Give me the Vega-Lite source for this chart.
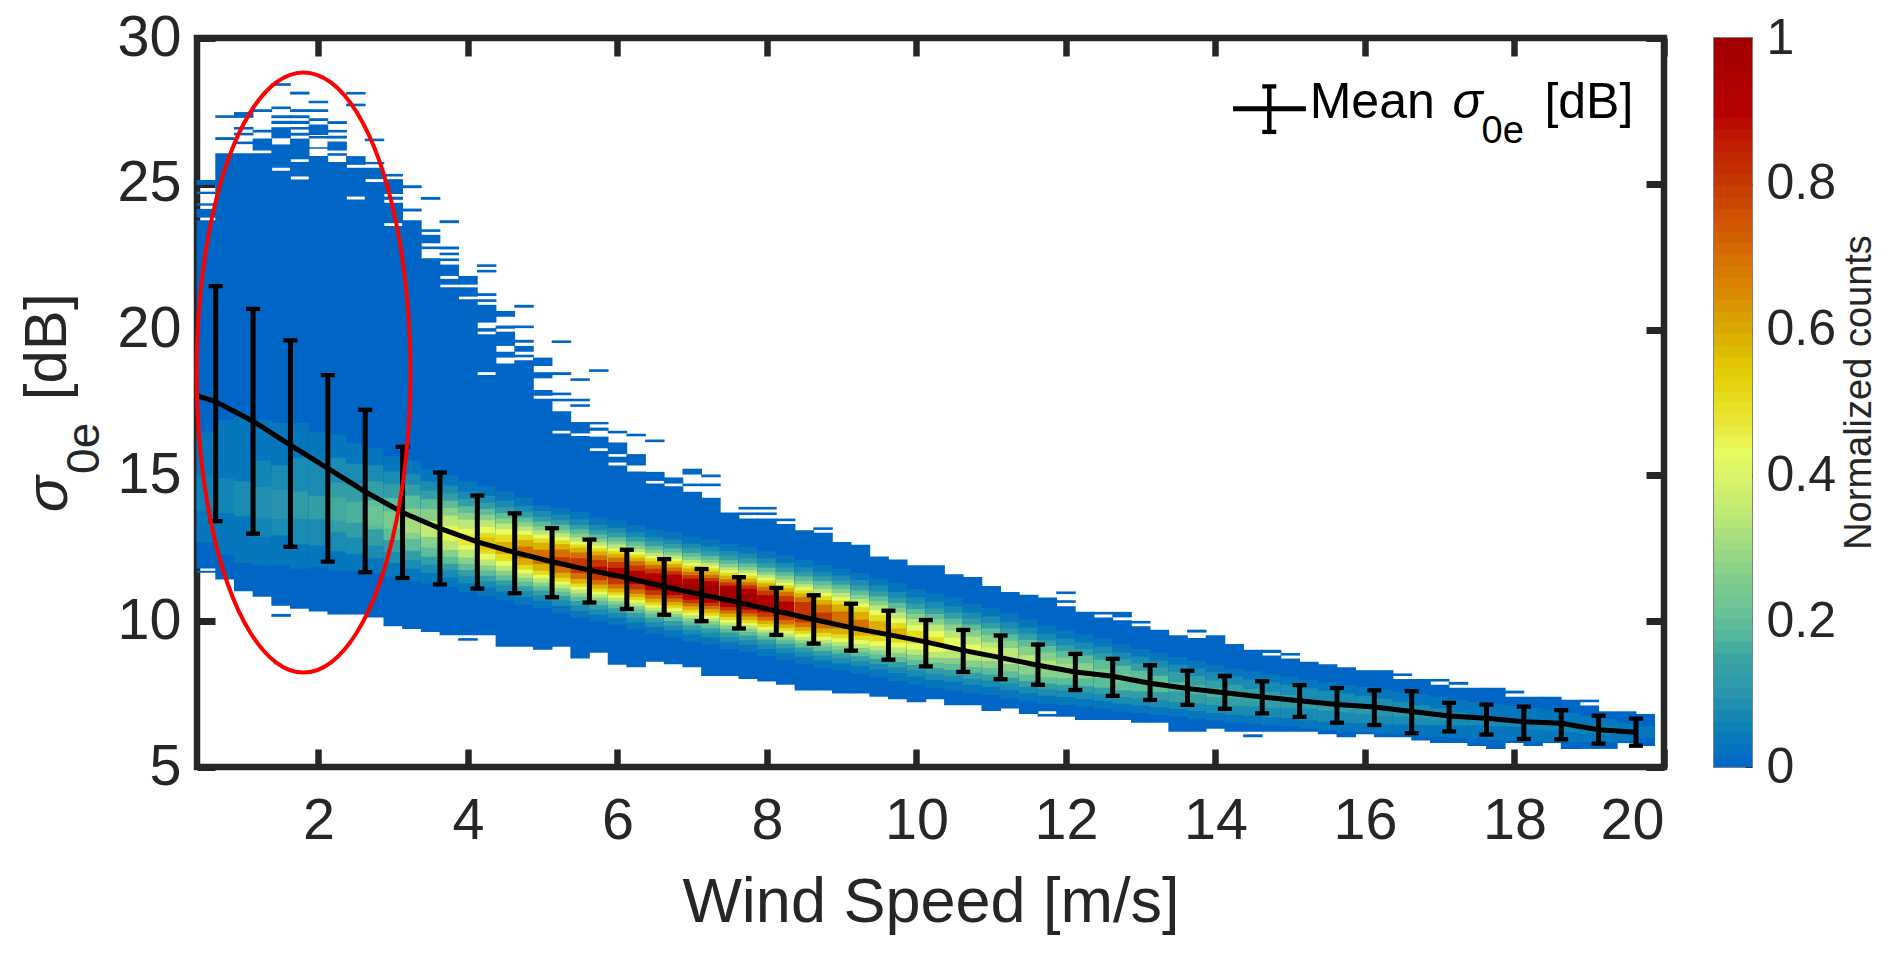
{"$schema":"https://vega.github.io/schema/vega-lite/v6.json","padding":{"left":14,"top":5,"right":0,"bottom":0},"background":"white","spacing":42,"resolve":{"scale":{"color":"independent"}},"config":{"font":"Liberation Sans","axis":{"labelFont":"Liberation Sans","titleFont":"Liberation Sans","labelColor":"#262626","titleColor":"#262626","grid":false}},"datasets":{"heat":[
{"x":0.5,"y":11.66,"y2":11.73,"c":0},{"x":0.5,"y":11.81,"y2":23.75,"c":0},{"x":0.5,"y":23.84,"y2":24.14,"c":0},{"x":0.5,"y":24.25,"y2":24.33,"c":0},{"x":0.5,"y":24.65,"y2":24.73,"c":0},{"x":0.5,"y":24.96,"y2":25.13,"c":0},{"x":0.5,"y":12.7,"y2":16.5,"c":0.03},{"x":0.5,"y":13.8,"y2":15.0,"c":0.05},
{"x":0.75,"y":11.43,"y2":26.05,"c":0},{"x":0.75,"y":26.5,"y2":26.6,"c":0},{"x":0.75,"y":27.26,"y2":27.35,"c":0},{"x":0.75,"y":12.3,"y2":16.9,"c":0.03},{"x":0.75,"y":13.7,"y2":14.9,"c":0.06},
{"x":1,"y":11.03,"y2":26.05,"c":0},{"x":1,"y":26.36,"y2":26.45,"c":0},{"x":1,"y":26.66,"y2":26.75,"c":0},{"x":1,"y":26.86,"y2":26.95,"c":0},{"x":1,"y":27.26,"y2":27.46,"c":0},{"x":1,"y":12.0,"y2":17.0,"c":0.03},{"x":1,"y":13.6,"y2":14.8,"c":0.07},
{"x":1.25,"y":10.84,"y2":26.05,"c":0},{"x":1.25,"y":26.14,"y2":26.55,"c":0},{"x":1.25,"y":26.76,"y2":26.85,"c":0},{"x":1.25,"y":27.46,"y2":27.56,"c":0},{"x":1.25,"y":11.9,"y2":16.9,"c":0.03},{"x":1.25,"y":12.9,"y2":15.5,"c":0.06},{"x":1.25,"y":13.55,"y2":14.6,"c":0.08},
{"x":1.5,"y":10.15,"y2":10.25,"c":0},{"x":1.5,"y":10.53,"y2":25.45,"c":0},{"x":1.5,"y":25.55,"y2":26.35,"c":0},{"x":1.5,"y":26.56,"y2":26.94,"c":0},{"x":1.5,"y":27.05,"y2":27.16,"c":0},{"x":1.5,"y":27.25,"y2":27.35,"c":0},{"x":1.5,"y":27.56,"y2":27.65,"c":0},{"x":1.5,"y":28.36,"y2":28.45,"c":0},{"x":1.5,"y":11.9,"y2":16.8,"c":0.03},{"x":1.5,"y":12.95,"y2":15.35,"c":0.07},{"x":1.5,"y":13.5,"y2":14.5,"c":0.09},
{"x":1.75,"y":10.43,"y2":25.15,"c":0},{"x":1.75,"y":25.25,"y2":25.75,"c":0},{"x":1.75,"y":25.84,"y2":26.55,"c":0},{"x":1.75,"y":26.65,"y2":26.75,"c":0},{"x":1.75,"y":26.86,"y2":26.95,"c":0},{"x":1.75,"y":27.05,"y2":27.16,"c":0},{"x":1.75,"y":27.25,"y2":27.35,"c":0},{"x":1.75,"y":27.46,"y2":27.56,"c":0},{"x":1.75,"y":28.06,"y2":28.16,"c":0},{"x":1.75,"y":11.8,"y2":16.8,"c":0.03},{"x":1.75,"y":12.65,"y2":15.6,"c":0.07},{"x":1.75,"y":13.5,"y2":14.45,"c":0.11},
{"x":2,"y":10.33,"y2":25.95,"c":0},{"x":2,"y":26.2,"y2":26.25,"c":0},{"x":2,"y":26.55,"y2":26.64,"c":0},{"x":2,"y":26.67,"y2":27.03,"c":0},{"x":2,"y":27.15,"y2":27.25,"c":0},{"x":2,"y":27.46,"y2":27.56,"c":0},{"x":2,"y":27.76,"y2":27.85,"c":0},{"x":2,"y":11.85,"y2":16.5,"c":0.03},{"x":2,"y":12.6,"y2":15.5,"c":0.07},{"x":2,"y":13.5,"y2":14.3,"c":0.12},
{"x":2.25,"y":10.23,"y2":25.75,"c":0},{"x":2.25,"y":25.96,"y2":26.05,"c":0},{"x":2.25,"y":26.14,"y2":26.45,"c":0},{"x":2.25,"y":26.55,"y2":26.65,"c":0},{"x":2.25,"y":26.76,"y2":26.85,"c":0},{"x":2.25,"y":27.05,"y2":27.15,"c":0},{"x":2.25,"y":11.75,"y2":16.4,"c":0.03},{"x":2.25,"y":12.4,"y2":15.6,"c":0.07},{"x":2.25,"y":13.05,"y2":14.75,"c":0.12},{"x":2.25,"y":13.45,"y2":14.25,"c":0.15},
{"x":2.5,"y":10.23,"y2":24.46,"c":0},{"x":2.5,"y":24.56,"y2":25.55,"c":0},{"x":2.5,"y":25.65,"y2":25.95,"c":0},{"x":2.5,"y":27.66,"y2":27.75,"c":0},{"x":2.5,"y":28.06,"y2":28.15,"c":0},{"x":2.5,"y":11.7,"y2":16.1,"c":0.03},{"x":2.5,"y":12.3,"y2":15.4,"c":0.07},{"x":2.5,"y":12.87,"y2":14.7,"c":0.12},{"x":2.5,"y":13.37,"y2":14.1,"c":0.16},
{"x":2.75,"y":10.13,"y2":25.06,"c":0},{"x":2.75,"y":25.16,"y2":25.55,"c":0},{"x":2.75,"y":25.67,"y2":25.75,"c":0},{"x":2.75,"y":26.46,"y2":26.55,"c":0},{"x":2.75,"y":11.65,"y2":15.95,"c":0.03},{"x":2.75,"y":12.15,"y2":15.35,"c":0.07},{"x":2.75,"y":12.6,"y2":14.8,"c":0.12},{"x":2.75,"y":13.15,"y2":14.15,"c":0.18},{"x":2.75,"y":13.3,"y2":13.95,"c":0.2},
{"x":3,"y":9.83,"y2":23.55,"c":0},{"x":3,"y":23.65,"y2":24.35,"c":0},{"x":3,"y":24.45,"y2":24.56,"c":0},{"x":3,"y":24.65,"y2":25.16,"c":0},{"x":3,"y":25.25,"y2":25.34,"c":0},{"x":3,"y":11.53,"y2":15.66,"c":0.03},{"x":3,"y":12.0,"y2":15.13,"c":0.07},{"x":3,"y":12.37,"y2":14.7,"c":0.12},{"x":3,"y":12.78,"y2":14.22,"c":0.18},{"x":3,"y":13.17,"y2":13.77,"c":0.23},
{"x":3.25,"y":9.73,"y2":23.75,"c":0},{"x":3.25,"y":24.05,"y2":24.15,"c":0},{"x":3.25,"y":24.85,"y2":24.95,"c":0},{"x":3.25,"y":11.38,"y2":15.5,"c":0.03},{"x":3.25,"y":11.8,"y2":15.04,"c":0.07},{"x":3.25,"y":12.1,"y2":14.68,"c":0.12},{"x":3.25,"y":12.42,"y2":14.31,"c":0.18},{"x":3.25,"y":12.81,"y2":13.86,"c":0.25},{"x":3.25,"y":13.03,"y2":13.6,"c":0.29},
{"x":3.5,"y":9.63,"y2":22.45,"c":0},{"x":3.5,"y":22.76,"y2":22.85,"c":0},{"x":3.5,"y":22.96,"y2":23.25,"c":0},{"x":3.5,"y":23.35,"y2":23.44,"c":0},{"x":3.5,"y":24.45,"y2":24.55,"c":0},{"x":3.5,"y":11.29,"y2":15.2,"c":0.03},{"x":3.5,"y":11.65,"y2":14.8,"c":0.07},{"x":3.5,"y":11.94,"y2":14.48,"c":0.12},{"x":3.5,"y":12.21,"y2":14.18,"c":0.18},{"x":3.5,"y":12.52,"y2":13.84,"c":0.25},{"x":3.5,"y":12.89,"y2":13.44,"c":0.33},
{"x":3.75,"y":9.52,"y2":21.45,"c":0},{"x":3.75,"y":21.54,"y2":21.74,"c":0},{"x":3.75,"y":21.84,"y2":22.23,"c":0},{"x":3.75,"y":22.35,"y2":22.44,"c":0},{"x":3.75,"y":22.55,"y2":22.64,"c":0},{"x":3.75,"y":22.75,"y2":22.85,"c":0},{"x":3.75,"y":23.65,"y2":23.75,"c":0},{"x":3.75,"y":11.17,"y2":15.0,"c":0.03},{"x":3.75,"y":11.5,"y2":14.65,"c":0.07},{"x":3.75,"y":11.75,"y2":14.38,"c":0.12},{"x":3.75,"y":11.97,"y2":14.13,"c":0.18},{"x":3.75,"y":12.2,"y2":13.88,"c":0.25},{"x":3.75,"y":12.44,"y2":13.62,"c":0.32},{"x":3.75,"y":12.76,"y2":13.26,"c":0.41},
{"x":4,"y":9.33,"y2":9.42,"c":0},{"x":4,"y":9.52,"y2":21.04,"c":0},{"x":4,"y":21.13,"y2":21.45,"c":0},{"x":4,"y":21.54,"y2":21.84,"c":0},{"x":4,"y":10.99,"y2":14.8,"c":0.03},{"x":4,"y":11.3,"y2":14.45,"c":0.07},{"x":4,"y":11.54,"y2":14.19,"c":0.12},{"x":4,"y":11.76,"y2":13.94,"c":0.18},{"x":4,"y":11.97,"y2":13.71,"c":0.25},{"x":4,"y":12.18,"y2":13.48,"c":0.32},{"x":4,"y":12.46,"y2":13.17,"c":0.4},{"x":4,"y":12.6,"y2":13.0,"c":0.44},
{"x":4.25,"y":9.52,"y2":18.44,"c":0},{"x":4.25,"y":18.54,"y2":19.84,"c":0},{"x":4.25,"y":19.93,"y2":20.05,"c":0},{"x":4.25,"y":20.24,"y2":20.85,"c":0},{"x":4.25,"y":20.95,"y2":21.04,"c":0},{"x":4.25,"y":21.15,"y2":21.25,"c":0},{"x":4.25,"y":21.96,"y2":22.05,"c":0},{"x":4.25,"y":22.15,"y2":22.24,"c":0},{"x":4.25,"y":10.86,"y2":14.62,"c":0.03},{"x":4.25,"y":11.15,"y2":14.3,"c":0.07},{"x":4.25,"y":11.37,"y2":14.06,"c":0.12},{"x":4.25,"y":11.56,"y2":13.85,"c":0.18},{"x":4.25,"y":11.74,"y2":13.65,"c":0.25},{"x":4.25,"y":11.91,"y2":13.46,"c":0.32},{"x":4.25,"y":12.11,"y2":13.24,"c":0.4},{"x":4.25,"y":12.31,"y2":13.02,"c":0.47},{"x":4.25,"y":12.45,"y2":12.87,"c":0.52},
{"x":4.5,"y":9.12,"y2":18.84,"c":0},{"x":4.5,"y":19.04,"y2":19.24,"c":0},{"x":4.5,"y":19.44,"y2":19.93,"c":0},{"x":4.5,"y":20.03,"y2":20.14,"c":0},{"x":4.5,"y":20.44,"y2":20.64,"c":0},{"x":4.5,"y":10.73,"y2":14.45,"c":0.03},{"x":4.5,"y":11.01,"y2":14.14,"c":0.07},{"x":4.5,"y":11.22,"y2":13.91,"c":0.12},{"x":4.5,"y":11.4,"y2":13.71,"c":0.18},{"x":4.5,"y":11.57,"y2":13.52,"c":0.25},{"x":4.5,"y":11.73,"y2":13.35,"c":0.32},{"x":4.5,"y":11.9,"y2":13.16,"c":0.4},{"x":4.5,"y":12.07,"y2":12.97,"c":0.47},{"x":4.5,"y":12.3,"y2":12.72,"c":0.55},
{"x":4.75,"y":9.12,"y2":18.95,"c":0},{"x":4.75,"y":19.05,"y2":19.14,"c":0},{"x":4.75,"y":19.24,"y2":19.44,"c":0},{"x":4.75,"y":19.55,"y2":19.65,"c":0},{"x":4.75,"y":20.05,"y2":20.14,"c":0},{"x":4.75,"y":20.75,"y2":20.85,"c":0},{"x":4.75,"y":10.56,"y2":14.24,"c":0.03},{"x":4.75,"y":10.83,"y2":13.95,"c":0.07},{"x":4.75,"y":11.03,"y2":13.74,"c":0.12},{"x":4.75,"y":11.2,"y2":13.56,"c":0.18},{"x":4.75,"y":11.35,"y2":13.4,"c":0.25},{"x":4.75,"y":11.49,"y2":13.25,"c":0.32},{"x":4.75,"y":11.64,"y2":13.1,"c":0.4},{"x":4.75,"y":11.77,"y2":12.96,"c":0.47},{"x":4.75,"y":11.93,"y2":12.79,"c":0.55},{"x":4.75,"y":12.15,"y2":12.56,"c":0.65},
{"x":5,"y":9.02,"y2":17.63,"c":0},{"x":5,"y":17.73,"y2":17.93,"c":0},{"x":5,"y":18.33,"y2":18.54,"c":0},{"x":5,"y":18.75,"y2":19.04,"c":0},{"x":5,"y":10.45,"y2":13.97,"c":0.03},{"x":5,"y":10.7,"y2":13.78,"c":0.07},{"x":5,"y":10.89,"y2":13.57,"c":0.12},{"x":5,"y":11.05,"y2":13.41,"c":0.18},{"x":5,"y":11.2,"y2":13.25,"c":0.25},{"x":5,"y":11.33,"y2":13.11,"c":0.32},{"x":5,"y":11.47,"y2":12.97,"c":0.4},{"x":5,"y":11.59,"y2":12.84,"c":0.47},{"x":5,"y":11.73,"y2":12.69,"c":0.55},{"x":5,"y":11.96,"y2":12.45,"c":0.65},
{"x":5.25,"y":9.12,"y2":16.44,"c":0},{"x":5.25,"y":16.53,"y2":17.2,"c":0},{"x":5.25,"y":17.54,"y2":17.63,"c":0},{"x":5.25,"y":17.75,"y2":17.84,"c":0},{"x":5.25,"y":18.44,"y2":18.54,"c":0},{"x":5.25,"y":19.54,"y2":19.63,"c":0},{"x":5.25,"y":10.27,"y2":13.88,"c":0.03},{"x":5.25,"y":10.52,"y2":13.65,"c":0.07},{"x":5.25,"y":10.71,"y2":13.46,"c":0.12},{"x":5.25,"y":10.86,"y2":13.3,"c":0.18},{"x":5.25,"y":11.01,"y2":13.14,"c":0.25},{"x":5.25,"y":11.13,"y2":13.02,"c":0.32},{"x":5.25,"y":11.26,"y2":12.88,"c":0.4},{"x":5.25,"y":11.36,"y2":12.77,"c":0.47},{"x":5.25,"y":11.49,"y2":12.64,"c":0.55},{"x":5.25,"y":11.66,"y2":12.46,"c":0.65},{"x":5.25,"y":11.9,"y2":12.2,"c":0.75},
{"x":5.5,"y":8.72,"y2":16.35,"c":0},{"x":5.5,"y":16.44,"y2":16.83,"c":0},{"x":5.5,"y":17.35,"y2":17.44,"c":0},{"x":5.5,"y":17.54,"y2":17.63,"c":0},{"x":5.5,"y":18.24,"y2":18.33,"c":0},{"x":5.5,"y":10.11,"y2":13.75,"c":0.03},{"x":5.5,"y":10.35,"y2":13.5,"c":0.07},{"x":5.5,"y":10.54,"y2":13.3,"c":0.12},{"x":5.5,"y":10.69,"y2":13.15,"c":0.18},{"x":5.5,"y":10.83,"y2":13.0,"c":0.25},{"x":5.5,"y":10.95,"y2":12.87,"c":0.32},{"x":5.5,"y":11.08,"y2":12.74,"c":0.4},{"x":5.5,"y":11.18,"y2":12.63,"c":0.47},{"x":5.5,"y":11.29,"y2":12.52,"c":0.55},{"x":5.5,"y":11.45,"y2":12.36,"c":0.65},{"x":5.5,"y":11.65,"y2":12.16,"c":0.75},
{"x":5.75,"y":8.92,"y2":15.84,"c":0},{"x":5.75,"y":15.93,"y2":16.33,"c":0},{"x":5.75,"y":16.53,"y2":16.64,"c":0},{"x":5.75,"y":16.75,"y2":16.83,"c":0},{"x":5.75,"y":18.55,"y2":18.64,"c":0},{"x":5.75,"y":9.99,"y2":13.55,"c":0.03},{"x":5.75,"y":10.23,"y2":13.3,"c":0.07},{"x":5.75,"y":10.4,"y2":13.12,"c":0.12},{"x":5.75,"y":10.55,"y2":12.97,"c":0.18},{"x":5.75,"y":10.69,"y2":12.82,"c":0.25},{"x":5.75,"y":10.8,"y2":12.71,"c":0.32},{"x":5.75,"y":10.91,"y2":12.6,"c":0.4},{"x":5.75,"y":11.01,"y2":12.5,"c":0.47},{"x":5.75,"y":11.12,"y2":12.39,"c":0.55},{"x":5.75,"y":11.25,"y2":12.26,"c":0.65},{"x":5.75,"y":11.41,"y2":12.1,"c":0.75},{"x":5.75,"y":11.63,"y2":11.87,"c":0.85},
{"x":6,"y":8.51,"y2":15.34,"c":0},{"x":6,"y":15.44,"y2":15.64,"c":0},{"x":6,"y":15.73,"y2":16.13,"c":0},{"x":6,"y":16.44,"y2":16.53,"c":0},{"x":6,"y":9.88,"y2":13.45,"c":0.03},{"x":6,"y":10.12,"y2":13.2,"c":0.07},{"x":6,"y":10.28,"y2":13.04,"c":0.12},{"x":6,"y":10.44,"y2":12.88,"c":0.18},{"x":6,"y":10.57,"y2":12.74,"c":0.25},{"x":6,"y":10.68,"y2":12.63,"c":0.32},{"x":6,"y":10.8,"y2":12.5,"c":0.4},{"x":6,"y":10.89,"y2":12.41,"c":0.47},{"x":6,"y":10.99,"y2":12.31,"c":0.55},{"x":6,"y":11.12,"y2":12.18,"c":0.65},{"x":6,"y":11.27,"y2":12.03,"c":0.75},{"x":6,"y":11.47,"y2":11.83,"c":0.85},
{"x":6.25,"y":8.42,"y2":15.13,"c":0},{"x":6.25,"y":15.34,"y2":15.73,"c":0},{"x":6.25,"y":16.34,"y2":16.43,"c":0},{"x":6.25,"y":9.72,"y2":13.3,"c":0.03},{"x":6.25,"y":9.96,"y2":13.05,"c":0.07},{"x":6.25,"y":10.12,"y2":12.89,"c":0.12},{"x":6.25,"y":10.28,"y2":12.73,"c":0.18},{"x":6.25,"y":10.41,"y2":12.6,"c":0.25},{"x":6.25,"y":10.52,"y2":12.48,"c":0.32},{"x":6.25,"y":10.63,"y2":12.37,"c":0.4},{"x":6.25,"y":10.72,"y2":12.28,"c":0.47},{"x":6.25,"y":10.82,"y2":12.18,"c":0.55},{"x":6.25,"y":10.94,"y2":12.06,"c":0.65},{"x":6.25,"y":11.09,"y2":11.91,"c":0.75},{"x":6.25,"y":11.27,"y2":11.73,"c":0.85},
{"x":6.5,"y":8.61,"y2":14.72,"c":0},{"x":6.5,"y":14.81,"y2":15.12,"c":0},{"x":6.5,"y":16.14,"y2":16.23,"c":0},{"x":6.5,"y":9.56,"y2":13.15,"c":0.03},{"x":6.5,"y":9.8,"y2":12.9,"c":0.07},{"x":6.5,"y":9.96,"y2":12.74,"c":0.12},{"x":6.5,"y":10.12,"y2":12.58,"c":0.18},{"x":6.5,"y":10.25,"y2":12.45,"c":0.25},{"x":6.5,"y":10.36,"y2":12.34,"c":0.32},{"x":6.5,"y":10.46,"y2":12.24,"c":0.4},{"x":6.5,"y":10.55,"y2":12.15,"c":0.47},{"x":6.5,"y":10.65,"y2":12.05,"c":0.55},{"x":6.5,"y":10.77,"y2":11.93,"c":0.65},{"x":6.5,"y":10.9,"y2":11.8,"c":0.75},{"x":6.5,"y":11.06,"y2":11.64,"c":0.85},{"x":6.5,"y":11.23,"y2":11.47,"c":0.93},
{"x":6.75,"y":8.52,"y2":14.63,"c":0},{"x":6.75,"y":14.72,"y2":14.93,"c":0},{"x":6.75,"y":9.45,"y2":13.05,"c":0.03},{"x":6.75,"y":9.69,"y2":12.8,"c":0.07},{"x":6.75,"y":9.85,"y2":12.65,"c":0.12},{"x":6.75,"y":10.01,"y2":12.49,"c":0.18},{"x":6.75,"y":10.14,"y2":12.36,"c":0.25},{"x":6.75,"y":10.25,"y2":12.25,"c":0.32},{"x":6.75,"y":10.35,"y2":12.15,"c":0.4},{"x":6.75,"y":10.44,"y2":12.06,"c":0.47},{"x":6.75,"y":10.54,"y2":11.96,"c":0.55},{"x":6.75,"y":10.66,"y2":11.84,"c":0.65},{"x":6.75,"y":10.78,"y2":11.72,"c":0.75},{"x":6.75,"y":10.9,"y2":11.6,"c":0.85},{"x":6.75,"y":11.13,"y2":11.37,"c":0.97},
{"x":7,"y":8.42,"y2":14.44,"c":0},{"x":7,"y":14.63,"y2":14.72,"c":0},{"x":7,"y":15.03,"y2":15.23,"c":0},{"x":7,"y":9.3,"y2":12.9,"c":0.03},{"x":7,"y":9.54,"y2":12.66,"c":0.07},{"x":7,"y":9.7,"y2":12.5,"c":0.12},{"x":7,"y":9.86,"y2":12.34,"c":0.18},{"x":7,"y":9.99,"y2":12.21,"c":0.25},{"x":7,"y":10.1,"y2":12.1,"c":0.32},{"x":7,"y":10.2,"y2":12.0,"c":0.4},{"x":7,"y":10.29,"y2":11.91,"c":0.47},{"x":7,"y":10.39,"y2":11.81,"c":0.55},{"x":7,"y":10.51,"y2":11.69,"c":0.65},{"x":7,"y":10.62,"y2":11.58,"c":0.75},{"x":7,"y":10.74,"y2":11.46,"c":0.85},{"x":7,"y":10.92,"y2":11.28,"c":0.95},
{"x":7.25,"y":8.12,"y2":14.23,"c":0},{"x":7.25,"y":14.63,"y2":14.72,"c":0},{"x":7.25,"y":14.94,"y2":15.03,"c":0},{"x":7.25,"y":9.2,"y2":12.8,"c":0.03},{"x":7.25,"y":9.44,"y2":12.56,"c":0.07},{"x":7.25,"y":9.6,"y2":12.4,"c":0.12},{"x":7.25,"y":9.76,"y2":12.24,"c":0.18},{"x":7.25,"y":9.89,"y2":12.11,"c":0.25},{"x":7.25,"y":10.0,"y2":12.0,"c":0.32},{"x":7.25,"y":10.1,"y2":11.9,"c":0.4},{"x":7.25,"y":10.19,"y2":11.81,"c":0.47},{"x":7.25,"y":10.29,"y2":11.71,"c":0.55},{"x":7.25,"y":10.41,"y2":11.59,"c":0.65},{"x":7.25,"y":10.52,"y2":11.48,"c":0.75},{"x":7.25,"y":10.63,"y2":11.37,"c":0.85},{"x":7.25,"y":10.78,"y2":11.22,"c":0.95},
{"x":7.5,"y":8.12,"y2":13.73,"c":0},{"x":7.5,"y":9.05,"y2":12.65,"c":0.03},{"x":7.5,"y":9.29,"y2":12.41,"c":0.07},{"x":7.5,"y":9.45,"y2":12.25,"c":0.12},{"x":7.5,"y":9.61,"y2":12.09,"c":0.18},{"x":7.5,"y":9.74,"y2":11.96,"c":0.25},{"x":7.5,"y":9.85,"y2":11.85,"c":0.32},{"x":7.5,"y":9.95,"y2":11.75,"c":0.4},{"x":7.5,"y":10.04,"y2":11.66,"c":0.47},{"x":7.5,"y":10.14,"y2":11.56,"c":0.55},{"x":7.5,"y":10.26,"y2":11.44,"c":0.65},{"x":7.5,"y":10.37,"y2":11.33,"c":0.75},{"x":7.5,"y":10.48,"y2":11.22,"c":0.85},{"x":7.5,"y":10.63,"y2":11.07,"c":0.95},
{"x":7.75,"y":8.02,"y2":13.52,"c":0},{"x":7.75,"y":13.64,"y2":13.73,"c":0},{"x":7.75,"y":13.83,"y2":13.92,"c":0},{"x":7.75,"y":8.95,"y2":12.55,"c":0.03},{"x":7.75,"y":9.19,"y2":12.31,"c":0.07},{"x":7.75,"y":9.35,"y2":12.15,"c":0.12},{"x":7.75,"y":9.51,"y2":11.99,"c":0.18},{"x":7.75,"y":9.64,"y2":11.86,"c":0.25},{"x":7.75,"y":9.75,"y2":11.75,"c":0.32},{"x":7.75,"y":9.85,"y2":11.65,"c":0.4},{"x":7.75,"y":9.94,"y2":11.56,"c":0.47},{"x":7.75,"y":10.04,"y2":11.46,"c":0.55},{"x":7.75,"y":10.16,"y2":11.34,"c":0.65},{"x":7.75,"y":10.27,"y2":11.23,"c":0.75},{"x":7.75,"y":10.39,"y2":11.11,"c":0.85},{"x":7.75,"y":10.57,"y2":10.93,"c":0.95},
{"x":8,"y":7.93,"y2":13.52,"c":0},{"x":8,"y":13.64,"y2":13.73,"c":0},{"x":8,"y":13.83,"y2":13.92,"c":0},{"x":8,"y":8.81,"y2":12.4,"c":0.03},{"x":8,"y":9.05,"y2":12.15,"c":0.07},{"x":8,"y":9.21,"y2":11.99,"c":0.12},{"x":8,"y":9.37,"y2":11.83,"c":0.18},{"x":8,"y":9.5,"y2":11.7,"c":0.25},{"x":8,"y":9.61,"y2":11.59,"c":0.32},{"x":8,"y":9.71,"y2":11.49,"c":0.4},{"x":8,"y":9.8,"y2":11.4,"c":0.47},{"x":8,"y":9.9,"y2":11.3,"c":0.55},{"x":8,"y":10.02,"y2":11.18,"c":0.65},{"x":8,"y":10.15,"y2":11.05,"c":0.75},{"x":8,"y":10.31,"y2":10.89,"c":0.85},
{"x":8.25,"y":7.82,"y2":13.33,"c":0},{"x":8.25,"y":13.43,"y2":13.52,"c":0},{"x":8.25,"y":8.67,"y2":12.25,"c":0.03},{"x":8.25,"y":8.91,"y2":12.0,"c":0.07},{"x":8.25,"y":9.07,"y2":11.84,"c":0.12},{"x":8.25,"y":9.23,"y2":11.68,"c":0.18},{"x":8.25,"y":9.36,"y2":11.55,"c":0.25},{"x":8.25,"y":9.47,"y2":11.43,"c":0.32},{"x":8.25,"y":9.58,"y2":11.32,"c":0.4},{"x":8.25,"y":9.67,"y2":11.23,"c":0.47},{"x":8.25,"y":9.77,"y2":11.13,"c":0.55},{"x":8.25,"y":9.89,"y2":11.01,"c":0.65},{"x":8.25,"y":10.04,"y2":10.86,"c":0.75},{"x":8.25,"y":10.22,"y2":10.68,"c":0.85},
{"x":8.5,"y":7.62,"y2":13.12,"c":0},{"x":8.5,"y":8.54,"y2":12.1,"c":0.03},{"x":8.5,"y":8.78,"y2":11.85,"c":0.07},{"x":8.5,"y":8.95,"y2":11.68,"c":0.12},{"x":8.5,"y":9.1,"y2":11.53,"c":0.18},{"x":8.5,"y":9.24,"y2":11.38,"c":0.25},{"x":8.5,"y":9.35,"y2":11.27,"c":0.32},{"x":8.5,"y":9.46,"y2":11.16,"c":0.4},{"x":8.5,"y":9.56,"y2":11.06,"c":0.47},{"x":8.5,"y":9.67,"y2":10.95,"c":0.55},{"x":8.5,"y":9.8,"y2":10.82,"c":0.65},{"x":8.5,"y":9.96,"y2":10.66,"c":0.75},
{"x":8.75,"y":7.62,"y2":13.03,"c":0},{"x":8.75,"y":13.13,"y2":13.22,"c":0},{"x":8.75,"y":8.4,"y2":11.93,"c":0.03},{"x":8.75,"y":8.65,"y2":11.7,"c":0.07},{"x":8.75,"y":8.82,"y2":11.53,"c":0.12},{"x":8.75,"y":8.98,"y2":11.38,"c":0.18},{"x":8.75,"y":9.12,"y2":11.23,"c":0.25},{"x":8.75,"y":9.24,"y2":11.1,"c":0.32},{"x":8.75,"y":9.36,"y2":10.97,"c":0.4},{"x":8.75,"y":9.47,"y2":10.86,"c":0.47},{"x":8.75,"y":9.6,"y2":10.73,"c":0.55},{"x":8.75,"y":9.75,"y2":10.57,"c":0.65},{"x":8.75,"y":10.0,"y2":10.3,"c":0.75},
{"x":9,"y":7.52,"y2":12.72,"c":0},{"x":9,"y":8.31,"y2":11.8,"c":0.03},{"x":9,"y":8.56,"y2":11.57,"c":0.07},{"x":9,"y":8.73,"y2":11.4,"c":0.12},{"x":9,"y":8.89,"y2":11.25,"c":0.18},{"x":9,"y":9.03,"y2":11.1,"c":0.25},{"x":9,"y":9.16,"y2":10.97,"c":0.32},{"x":9,"y":9.29,"y2":10.83,"c":0.4},{"x":9,"y":9.41,"y2":10.71,"c":0.47},{"x":9,"y":9.55,"y2":10.57,"c":0.55},{"x":9,"y":9.75,"y2":10.33,"c":0.65},
{"x":9.25,"y":7.52,"y2":12.62,"c":0},{"x":9.25,"y":8.2,"y2":11.65,"c":0.03},{"x":9.25,"y":8.46,"y2":11.41,"c":0.07},{"x":9.25,"y":8.63,"y2":11.23,"c":0.12},{"x":9.25,"y":8.8,"y2":11.05,"c":0.18},{"x":9.25,"y":8.94,"y2":10.9,"c":0.25},{"x":9.25,"y":9.08,"y2":10.76,"c":0.32},{"x":9.25,"y":9.22,"y2":10.61,"c":0.4},{"x":9.25,"y":9.35,"y2":10.48,"c":0.47},{"x":9.25,"y":9.5,"y2":10.32,"c":0.55},{"x":9.25,"y":9.75,"y2":10.05,"c":0.65},
{"x":9.5,"y":7.41,"y2":12.22,"c":0},{"x":9.5,"y":8.08,"y2":11.47,"c":0.03},{"x":9.5,"y":8.34,"y2":11.22,"c":0.07},{"x":9.5,"y":8.53,"y2":11.03,"c":0.12},{"x":9.5,"y":8.7,"y2":10.85,"c":0.18},{"x":9.5,"y":8.86,"y2":10.69,"c":0.25},{"x":9.5,"y":9.0,"y2":10.54,"c":0.32},{"x":9.5,"y":9.15,"y2":10.38,"c":0.4},{"x":9.5,"y":9.31,"y2":10.21,"c":0.47},{"x":9.5,"y":9.5,"y2":10.0,"c":0.55},
{"x":9.75,"y":7.32,"y2":12.12,"c":0},{"x":9.75,"y":7.95,"y2":11.3,"c":0.03},{"x":9.75,"y":8.22,"y2":11.0,"c":0.07},{"x":9.75,"y":8.42,"y2":10.8,"c":0.12},{"x":9.75,"y":8.6,"y2":10.62,"c":0.18},{"x":9.75,"y":8.76,"y2":10.45,"c":0.25},{"x":9.75,"y":8.92,"y2":10.3,"c":0.32},{"x":9.75,"y":9.1,"y2":10.1,"c":0.4},{"x":9.75,"y":9.26,"y2":9.94,"c":0.47},{"x":9.75,"y":9.45,"y2":9.75,"c":0.55},
{"x":10,"y":7.22,"y2":11.92,"c":0},{"x":10,"y":7.83,"y2":11.1,"c":0.03},{"x":10,"y":8.1,"y2":10.82,"c":0.07},{"x":10,"y":8.31,"y2":10.6,"c":0.12},{"x":10,"y":8.5,"y2":10.42,"c":0.18},{"x":10,"y":8.67,"y2":10.25,"c":0.25},{"x":10,"y":8.85,"y2":10.07,"c":0.32},{"x":10,"y":9.03,"y2":9.87,"c":0.4},{"x":10,"y":9.23,"y2":9.67,"c":0.47},
{"x":10.25,"y":7.32,"y2":11.92,"c":0},{"x":10.25,"y":7.7,"y2":10.95,"c":0.03},{"x":10.25,"y":7.98,"y2":10.65,"c":0.07},{"x":10.25,"y":8.19,"y2":10.44,"c":0.12},{"x":10.25,"y":8.39,"y2":10.25,"c":0.18},{"x":10.25,"y":8.57,"y2":10.07,"c":0.25},{"x":10.25,"y":8.75,"y2":9.88,"c":0.32},{"x":10.25,"y":8.95,"y2":9.67,"c":0.4},{"x":10.25,"y":9.15,"y2":9.45,"c":0.47},
{"x":10.5,"y":7.12,"y2":11.61,"c":0},{"x":10.5,"y":7.63,"y2":10.8,"c":0.03},{"x":10.5,"y":7.92,"y2":10.5,"c":0.07},{"x":10.5,"y":8.13,"y2":10.29,"c":0.12},{"x":10.5,"y":8.33,"y2":10.09,"c":0.18},{"x":10.5,"y":8.53,"y2":9.89,"c":0.25},{"x":10.5,"y":8.74,"y2":9.68,"c":0.32},{"x":10.5,"y":8.98,"y2":9.43,"c":0.4},
{"x":10.75,"y":7.12,"y2":11.52,"c":0},{"x":10.75,"y":7.52,"y2":10.6,"c":0.03},{"x":10.75,"y":7.81,"y2":10.3,"c":0.07},{"x":10.75,"y":8.03,"y2":10.09,"c":0.12},{"x":10.75,"y":8.23,"y2":9.89,"c":0.18},{"x":10.75,"y":8.43,"y2":9.69,"c":0.25},{"x":10.75,"y":8.65,"y2":9.47,"c":0.32},{"x":10.75,"y":8.9,"y2":9.2,"c":0.4},
{"x":11,"y":6.92,"y2":11.21,"c":0},{"x":11,"y":7.47,"y2":10.45,"c":0.03},{"x":11,"y":7.75,"y2":10.16,"c":0.07},{"x":11,"y":7.97,"y2":9.95,"c":0.12},{"x":11,"y":8.17,"y2":9.75,"c":0.18},{"x":11,"y":8.39,"y2":9.53,"c":0.25},{"x":11,"y":8.63,"y2":9.28,"c":0.32},{"x":11,"y":8.8,"y2":9.1,"c":0.37},
{"x":11.25,"y":7.01,"y2":11.0,"c":0},{"x":11.25,"y":7.35,"y2":10.27,"c":0.03},{"x":11.25,"y":7.64,"y2":9.97,"c":0.07},{"x":11.25,"y":7.86,"y2":9.75,"c":0.12},{"x":11.25,"y":8.06,"y2":9.55,"c":0.18},{"x":11.25,"y":8.28,"y2":9.33,"c":0.25},{"x":11.25,"y":8.53,"y2":9.08,"c":0.32},
{"x":11.5,"y":6.82,"y2":10.91,"c":0},{"x":11.5,"y":7.24,"y2":10.07,"c":0.03},{"x":11.5,"y":7.53,"y2":9.78,"c":0.07},{"x":11.5,"y":7.75,"y2":9.56,"c":0.12},{"x":11.5,"y":7.95,"y2":9.36,"c":0.18},{"x":11.5,"y":8.17,"y2":9.14,"c":0.25},{"x":11.5,"y":8.47,"y2":8.83,"c":0.32},
{"x":11.75,"y":6.73,"y2":6.82,"c":0},{"x":11.75,"y":6.91,"y2":10.81,"c":0},{"x":11.75,"y":7.17,"y2":9.85,"c":0.03},{"x":11.75,"y":7.44,"y2":9.57,"c":0.07},{"x":11.75,"y":7.66,"y2":9.35,"c":0.12},{"x":11.75,"y":7.86,"y2":9.15,"c":0.18},{"x":11.75,"y":8.07,"y2":8.93,"c":0.25},{"x":11.75,"y":8.35,"y2":8.65,"c":0.31},
{"x":12,"y":6.72,"y2":10.51,"c":0},{"x":12,"y":10.63,"y2":10.72,"c":0},{"x":12,"y":10.93,"y2":11.02,"c":0},{"x":12,"y":7.13,"y2":9.68,"c":0.03},{"x":12,"y":7.4,"y2":9.4,"c":0.07},{"x":12,"y":7.62,"y2":9.18,"c":0.12},{"x":12,"y":7.82,"y2":8.98,"c":0.18},{"x":12,"y":8.05,"y2":8.75,"c":0.25},{"x":12,"y":8.27,"y2":8.53,"c":0.28},
{"x":12.25,"y":6.61,"y2":10.32,"c":0},{"x":12.25,"y":7.07,"y2":9.54,"c":0.03},{"x":12.25,"y":7.33,"y2":9.27,"c":0.07},{"x":12.25,"y":7.56,"y2":9.04,"c":0.12},{"x":12.25,"y":7.77,"y2":8.83,"c":0.18},{"x":12.25,"y":8.04,"y2":8.56,"c":0.25},
{"x":12.5,"y":6.61,"y2":10.13,"c":0},{"x":12.5,"y":10.23,"y2":10.32,"c":0},{"x":12.5,"y":7.0,"y2":9.4,"c":0.03},{"x":12.5,"y":7.27,"y2":9.13,"c":0.07},{"x":12.5,"y":7.5,"y2":8.9,"c":0.12},{"x":12.5,"y":7.72,"y2":8.68,"c":0.18},{"x":12.5,"y":8.05,"y2":8.35,"c":0.24},
{"x":12.75,"y":6.61,"y2":10.03,"c":0},{"x":12.75,"y":10.13,"y2":10.32,"c":0},{"x":12.75,"y":6.9,"y2":9.2,"c":0.03},{"x":12.75,"y":7.17,"y2":8.93,"c":0.07},{"x":12.75,"y":7.4,"y2":8.7,"c":0.12},{"x":12.75,"y":7.63,"y2":8.47,"c":0.18},{"x":12.75,"y":7.9,"y2":8.2,"c":0.22},
{"x":13,"y":6.52,"y2":9.83,"c":0},{"x":13,"y":9.92,"y2":10.01,"c":0},{"x":13,"y":6.85,"y2":9.05,"c":0.03},{"x":13,"y":7.11,"y2":8.79,"c":0.07},{"x":13,"y":7.35,"y2":8.55,"c":0.12},{"x":13,"y":7.6,"y2":8.3,"c":0.18},
{"x":13.25,"y":6.52,"y2":9.71,"c":0},{"x":13.25,"y":6.78,"y2":8.92,"c":0.03},{"x":13.25,"y":7.05,"y2":8.65,"c":0.07},{"x":13.25,"y":7.29,"y2":8.41,"c":0.12},{"x":13.25,"y":7.57,"y2":8.13,"c":0.18},
{"x":13.5,"y":6.21,"y2":9.52,"c":0},{"x":13.5,"y":6.73,"y2":8.77,"c":0.03},{"x":13.5,"y":6.99,"y2":8.51,"c":0.07},{"x":13.5,"y":7.23,"y2":8.27,"c":0.12},{"x":13.5,"y":7.6,"y2":7.9,"c":0.18},
{"x":13.75,"y":6.21,"y2":9.42,"c":0},{"x":13.75,"y":9.61,"y2":9.71,"c":0},{"x":13.75,"y":6.66,"y2":8.64,"c":0.03},{"x":13.75,"y":6.92,"y2":8.38,"c":0.07},{"x":13.75,"y":7.18,"y2":8.12,"c":0.12},{"x":13.75,"y":7.5,"y2":7.8,"c":0.17},
{"x":14,"y":6.31,"y2":9.52,"c":0},{"x":14,"y":6.59,"y2":8.51,"c":0.03},{"x":14,"y":6.85,"y2":8.25,"c":0.07},{"x":14,"y":7.13,"y2":7.97,"c":0.12},{"x":14,"y":7.4,"y2":7.7,"c":0.16},
{"x":14.25,"y":6.21,"y2":9.22,"c":0},{"x":14.25,"y":6.53,"y2":8.37,"c":0.03},{"x":14.25,"y":6.79,"y2":8.11,"c":0.07},{"x":14.25,"y":7.08,"y2":7.82,"c":0.12},{"x":14.25,"y":7.32,"y2":7.58,"c":0.15},
{"x":14.5,"y":6.02,"y2":6.12,"c":0},{"x":14.5,"y":6.21,"y2":9.02,"c":0},{"x":14.5,"y":6.48,"y2":8.28,"c":0.03},{"x":14.5,"y":6.76,"y2":8.0,"c":0.07},{"x":14.5,"y":7.08,"y2":7.68,"c":0.12},{"x":14.5,"y":7.26,"y2":7.5,"c":0.14},
{"x":14.75,"y":6.21,"y2":8.82,"c":0},{"x":14.75,"y":8.91,"y2":9.02,"c":0},{"x":14.75,"y":6.42,"y2":8.18,"c":0.03},{"x":14.75,"y":6.7,"y2":7.9,"c":0.07},{"x":14.75,"y":7.03,"y2":7.57,"c":0.12},
{"x":15,"y":6.21,"y2":8.72,"c":0},{"x":15,"y":8.82,"y2":8.91,"c":0},{"x":15,"y":6.4,"y2":8.1,"c":0.03},{"x":15,"y":6.68,"y2":7.82,"c":0.07},{"x":15,"y":7.03,"y2":7.47,"c":0.12},
{"x":15.25,"y":6.21,"y2":8.61,"c":0},{"x":15.25,"y":6.32,"y2":7.98,"c":0.03},{"x":15.25,"y":6.6,"y2":7.7,"c":0.07},{"x":15.25,"y":7.0,"y2":7.3,"c":0.12},
{"x":15.5,"y":6.12,"y2":8.52,"c":0},{"x":15.5,"y":6.27,"y2":7.89,"c":0.03},{"x":15.5,"y":6.55,"y2":7.61,"c":0.07},{"x":15.5,"y":6.93,"y2":7.23,"c":0.12},
{"x":15.75,"y":6.02,"y2":8.42,"c":0},{"x":15.75,"y":6.23,"y2":7.81,"c":0.03},{"x":15.75,"y":6.52,"y2":7.52,"c":0.07},{"x":15.75,"y":6.87,"y2":7.17,"c":0.11},
{"x":16,"y":6.12,"y2":8.32,"c":0},{"x":16,"y":6.2,"y2":7.74,"c":0.03},{"x":16,"y":6.5,"y2":7.44,"c":0.07},{"x":16,"y":6.83,"y2":7.11,"c":0.11},
{"x":16.25,"y":6.02,"y2":8.32,"c":0},{"x":16.25,"y":6.15,"y2":7.65,"c":0.03},{"x":16.25,"y":6.46,"y2":7.34,"c":0.07},{"x":16.25,"y":6.76,"y2":7.04,"c":0.1},
{"x":16.5,"y":6.02,"y2":8.02,"c":0},{"x":16.5,"y":8.12,"y2":8.21,"c":0},{"x":16.5,"y":6.12,"y2":7.58,"c":0.03},{"x":16.5,"y":6.46,"y2":7.24,"c":0.07},{"x":16.5,"y":6.72,"y2":6.98,"c":0.1},
{"x":16.75,"y":5.91,"y2":8.02,"c":0},{"x":16.75,"y":6.07,"y2":7.49,"c":0.03},{"x":16.75,"y":6.44,"y2":7.12,"c":0.07},{"x":16.75,"y":6.65,"y2":6.91,"c":0.09},
{"x":17,"y":5.82,"y2":7.82,"c":0},{"x":17,"y":7.93,"y2":8.02,"c":0},{"x":17,"y":6.03,"y2":7.41,"c":0.03},{"x":17,"y":6.43,"y2":7.01,"c":0.07},{"x":17,"y":6.6,"y2":6.84,"c":0.09},
{"x":17.25,"y":5.82,"y2":7.72,"c":0},{"x":17.25,"y":7.82,"y2":7.92,"c":0},{"x":17.25,"y":5.99,"y2":7.31,"c":0.03},{"x":17.25,"y":6.43,"y2":6.87,"c":0.07},
{"x":17.5,"y":5.72,"y2":7.72,"c":0},{"x":17.5,"y":5.97,"y2":7.23,"c":0.03},{"x":17.5,"y":6.43,"y2":6.77,"c":0.07},
{"x":17.75,"y":5.62,"y2":7.72,"c":0},{"x":17.75,"y":5.93,"y2":7.17,"c":0.03},{"x":17.75,"y":6.4,"y2":6.7,"c":0.07},
{"x":18,"y":5.82,"y2":7.41,"c":0},{"x":18,"y":7.52,"y2":7.62,"c":0},{"x":18,"y":5.9,"y2":7.1,"c":0.03},{"x":18,"y":6.39,"y2":6.61,"c":0.07},
{"x":18.25,"y":5.72,"y2":7.41,"c":0},{"x":18.25,"y":5.88,"y2":7.02,"c":0.03},{"x":18.25,"y":6.28,"y2":6.62,"c":0.06},
{"x":18.5,"y":5.82,"y2":7.41,"c":0},{"x":18.5,"y":5.85,"y2":6.95,"c":0.03},{"x":18.5,"y":6.25,"y2":6.55,"c":0.06},
{"x":18.75,"y":5.62,"y2":7.31,"c":0},{"x":18.75,"y":5.85,"y2":6.85,"c":0.03},{"x":18.75,"y":6.2,"y2":6.5,"c":0.06},
{"x":19,"y":5.62,"y2":7.11,"c":0},{"x":19,"y":7.22,"y2":7.31,"c":0},{"x":19,"y":5.85,"y2":6.75,"c":0.03},{"x":19,"y":6.15,"y2":6.45,"c":0.05},
{"x":19.25,"y":5.62,"y2":6.91,"c":0},{"x":19.25,"y":5.85,"y2":6.65,"c":0.03},{"x":19.25,"y":6.1,"y2":6.4,"c":0.05},
{"x":19.5,"y":5.82,"y2":6.91,"c":0},{"x":19.5,"y":5.9,"y2":6.5,"c":0.03},
{"x":19.75,"y":5.72,"y2":6.82,"c":0},{"x":19.75,"y":6.0,"y2":6.4,"c":0.03}
],"bars":[
{"x":0.625,"m":17.53,"lo":13.43,"hi":21.49},{"x":1.125,"m":16.86,"lo":13.0,"hi":20.71},{"x":1.625,"m":16.04,"lo":12.55,"hi":19.63},{"x":2.125,"m":15.24,"lo":12.04,"hi":18.44},{"x":2.625,"m":14.44,"lo":11.68,"hi":17.25},{"x":3.125,"m":13.73,"lo":11.48,"hi":15.98},{"x":3.625,"m":13.18,"lo":11.26,"hi":15.1},{"x":4.125,"m":12.72,"lo":11.12,"hi":14.31},{"x":4.625,"m":12.36,"lo":10.96,"hi":13.7},{"x":5.125,"m":12.04,"lo":10.82,"hi":13.19},{"x":5.625,"m":11.75,"lo":10.64,"hi":12.8},{"x":6.125,"m":11.49,"lo":10.42,"hi":12.45},{"x":6.625,"m":11.18,"lo":10.22,"hi":12.13},{"x":7.125,"m":10.91,"lo":10.0,"hi":11.79},{"x":7.625,"m":10.64,"lo":9.75,"hi":11.51},{"x":8.125,"m":10.35,"lo":9.53,"hi":11.14},{"x":8.625,"m":10.06,"lo":9.23,"hi":10.89},{"x":9.125,"m":9.78,"lo":8.99,"hi":10.6},{"x":9.625,"m":9.54,"lo":8.68,"hi":10.36},{"x":10.125,"m":9.29,"lo":8.45,"hi":10.04},{"x":10.625,"m":9.0,"lo":8.26,"hi":9.7},{"x":11.125,"m":8.75,"lo":8.01,"hi":9.51},{"x":11.625,"m":8.49,"lo":7.82,"hi":9.2},{"x":12.125,"m":8.26,"lo":7.64,"hi":8.88},{"x":12.625,"m":8.11,"lo":7.44,"hi":8.71},{"x":13.125,"m":7.87,"lo":7.3,"hi":8.49},{"x":13.625,"m":7.69,"lo":7.13,"hi":8.3},{"x":14.125,"m":7.55,"lo":6.99,"hi":8.12},{"x":14.625,"m":7.4,"lo":6.84,"hi":7.94},{"x":15.125,"m":7.27,"lo":6.72,"hi":7.81},{"x":15.625,"m":7.14,"lo":6.52,"hi":7.71},{"x":16.125,"m":7.06,"lo":6.44,"hi":7.63},{"x":16.625,"m":6.9,"lo":6.16,"hi":7.6},{"x":17.125,"m":6.75,"lo":6.22,"hi":7.2},{"x":17.625,"m":6.67,"lo":6.11,"hi":7.14},{"x":18.125,"m":6.55,"lo":5.96,"hi":7.07},{"x":18.625,"m":6.5,"lo":5.95,"hi":6.95},{"x":19.125,"m":6.28,"lo":5.8,"hi":6.76},{"x":19.625,"m":6.19,"lo":5.73,"hi":6.66}
],"ellipse":[{"i":0,"x":3.23,"y":18.53},{"i":1,"x":3.181,"y":21.19},{"i":2,"x":3.038,"y":23.675},{"i":3,"x":2.811,"y":25.81},{"i":4,"x":2.515,"y":27.44},{"i":5,"x":2.17,"y":28.47},{"i":6,"x":1.8,"y":28.82},{"i":7,"x":1.43,"y":28.47},{"i":8,"x":1.085,"y":27.44},{"i":9,"x":0.789,"y":25.81},{"i":10,"x":0.562,"y":23.675},{"i":11,"x":0.419,"y":21.19},{"i":12,"x":0.37,"y":18.53},{"i":13,"x":0.419,"y":15.87},{"i":14,"x":0.562,"y":13.385},{"i":15,"x":0.789,"y":11.25},{"i":16,"x":1.085,"y":9.62},{"i":17,"x":1.43,"y":8.59},{"i":18,"x":1.8,"y":8.24},{"i":19,"x":2.17,"y":8.59},{"i":20,"x":2.515,"y":9.62},{"i":21,"x":2.811,"y":11.25},{"i":22,"x":3.038,"y":13.385},{"i":23,"x":3.181,"y":15.87}],
"colorbar":[{"y":0,"c":0.008},{"y":0.0156,"c":0.023},{"y":0.0313,"c":0.039},{"y":0.0469,"c":0.055},{"y":0.0625,"c":0.07},{"y":0.0781,"c":0.086},{"y":0.0938,"c":0.102},{"y":0.1094,"c":0.117},{"y":0.125,"c":0.133},{"y":0.1406,"c":0.148},{"y":0.1563,"c":0.164},{"y":0.1719,"c":0.18},{"y":0.1875,"c":0.195},{"y":0.2031,"c":0.211},{"y":0.2188,"c":0.227},{"y":0.2344,"c":0.242},{"y":0.25,"c":0.258},{"y":0.2656,"c":0.273},{"y":0.2813,"c":0.289},{"y":0.2969,"c":0.305},{"y":0.3125,"c":0.32},{"y":0.3281,"c":0.336},{"y":0.3438,"c":0.352},{"y":0.3594,"c":0.367},{"y":0.375,"c":0.383},{"y":0.3906,"c":0.398},{"y":0.4063,"c":0.414},{"y":0.4219,"c":0.43},{"y":0.4375,"c":0.445},{"y":0.4531,"c":0.461},{"y":0.4688,"c":0.477},{"y":0.4844,"c":0.492},{"y":0.5,"c":0.508},{"y":0.5156,"c":0.523},{"y":0.5313,"c":0.539},{"y":0.5469,"c":0.555},{"y":0.5625,"c":0.57},{"y":0.5781,"c":0.586},{"y":0.5938,"c":0.602},{"y":0.6094,"c":0.617},{"y":0.625,"c":0.633},{"y":0.6406,"c":0.648},{"y":0.6563,"c":0.664},{"y":0.6719,"c":0.68},{"y":0.6875,"c":0.695},{"y":0.7031,"c":0.711},{"y":0.7188,"c":0.727},{"y":0.7344,"c":0.742},{"y":0.75,"c":0.758},{"y":0.7656,"c":0.773},{"y":0.7813,"c":0.789},{"y":0.7969,"c":0.805},{"y":0.8125,"c":0.82},{"y":0.8281,"c":0.836},{"y":0.8438,"c":0.852},{"y":0.8594,"c":0.867},{"y":0.875,"c":0.883},{"y":0.8906,"c":0.898},{"y":0.9063,"c":0.914},{"y":0.9219,"c":0.93},{"y":0.9375,"c":0.945},{"y":0.9531,"c":0.961},{"y":0.9688,"c":0.977},{"y":0.9844,"c":0.992}]},
"hconcat":[{"width":1467,"height":729,"view":{"stroke":"#262626","strokeWidth":6.5},"resolve":{"axis":{"x":"independent","y":"independent"}},
"encoding":{"x":{"field":"x","type":"quantitative","scale":{"domain":[0.375,20],"nice":false,"zero":false},"axis":null},"y":{"field":"y","type":"quantitative","scale":{"domain":[5,30],"nice":false,"zero":false},"axis":null}},
"layer":[
{"data":{"name":"heat"},"mark":{"type":"rect","width":19.5},"encoding":{
"x":{"field":"x","type":"quantitative","scale":{"domain":[0.375,20],"nice":false,"zero":false},"axis":{"orient":"bottom","values":[2,4,6,8,10,12,14,16,18,20],"title":"Wind Speed [m/s]","titleFontSize":63,"titleFontWeight":"normal","titleBaseline":"alphabetic","titleY":154,"labelFontSize":57.5,"labelPadding":44,"domain":false,"tickSize":-18,"tickWidth":6.5,"tickColor":"#262626","labelOverlap":false}},
"y":{"field":"y","type":"quantitative","scale":{"domain":[5,30],"nice":false,"zero":false},"axis":{"orient":"left","values":[5,10,15,20,25,30],"title":null,"labelFontSize":57.5,"labelPadding":34,"domain":false,"tickSize":-18,"tickWidth":7,"tickColor":"#262626","labelOverlap":false}},
"y2":{"field":"y2"},"color":{"field":"c","type":"quantitative","legend":null,"scale":{"clamp":true,"domain":[0,0.0465,0.093,0.14,0.186,0.2325,0.279,0.3255,0.372,0.4,0.437,0.465,0.5115,0.558,0.6045,0.651,0.6975,0.744,0.79,0.837,0.8835,0.93],"range":["#0066c6","#0a80b8","#2a95ad","#3aa5a0","#62bf99","#7acb8d","#9ed982","#bfe974","#daf468","#e5fb60","#e8e838","#e5dd20","#e3c800","#d9a800","#d98a00","#d46f00","#cf5400","#c63a00","#bf2000","#b60000","#ac0000","#a00000"],"interpolate":"rgb"}}}},
{"data":{"name":"bars"},"mark":{"type":"line","color":"#000000","strokeWidth":5},"encoding":{
"x":{"field":"x","type":"quantitative","axis":{"orient":"top","values":[2,4,6,8,10,12,14,16,18,20],"title":null,"labels":false,"domain":false,"tickSize":-18,"tickWidth":6.5,"tickColor":"#262626"}},
"y":{"field":"m","type":"quantitative","axis":{"orient":"right","values":[5,10,15,20,25,30],"title":null,"labels":false,"domain":false,"tickSize":-18,"tickWidth":7,"tickColor":"#262626"}}}},
{"data":{"values":[{"x":0.39,"y":17.72},{"x":0.625,"y":17.53}]},"mark":{"type":"line","color":"#000000","strokeWidth":5},"encoding":{}},
{"data":{"name":"bars"},"mark":{"type":"rule","color":"#000000","strokeWidth":5},"encoding":{"y":{"field":"lo","type":"quantitative","axis":null},"y2":{"field":"hi"}}},
{"data":{"name":"bars"},"mark":{"type":"tick","orient":"horizontal","color":"#000000","size":14,"thickness":4.3,"opacity":1},"encoding":{"y":{"field":"lo","type":"quantitative","axis":null}}},
{"data":{"name":"bars"},"mark":{"type":"tick","orient":"horizontal","color":"#000000","size":14,"thickness":4.3,"opacity":1},"encoding":{"y":{"field":"hi","type":"quantitative","axis":null}}},
{"data":{"name":"ellipse"},"mark":{"type":"line","color":"#ff0000","strokeWidth":4,"interpolate":"cardinal-closed"},"encoding":{"order":{"field":"i","type":"ordinal"}}},
{"data":{"values":[{"x":14.235,"y":27.57},{"x":15.21,"y":27.57}]},"mark":{"type":"line","color":"#000000","strokeWidth":5},"encoding":{}},
{"data":{"values":[{"x":14.72,"lo":26.78,"hi":28.34}]},"mark":{"type":"rule","color":"#000000","strokeWidth":4.5},"encoding":{"y":{"field":"lo","type":"quantitative","axis":null},"y2":{"field":"hi"}}},
{"data":{"values":[{"x":14.72,"y":26.78},{"x":14.72,"y":28.34}]},"mark":{"type":"tick","orient":"horizontal","color":"#000000","size":14,"thickness":4.3,"opacity":1},"encoding":{}},
{"data":{"values":[{"x":15.26,"y":27.27,"t":"Mean"},{"x":18.4,"y":27.27,"t":"[dB]"}]},"mark":{"type":"text","font":"Liberation Sans","fontSize":50,"align":"left","baseline":"alphabetic","color":"#000000"},"encoding":{"text":{"field":"t"}}},
{"data":{"values":[{"x":17.17,"y":27.27,"t":"σ"}]},"mark":{"type":"text","font":"Liberation Sans","fontSize":50,"fontStyle":"italic","align":"left","baseline":"alphabetic","color":"#000000"},"encoding":{"text":{"field":"t"}}},
{"data":{"values":[{"x":17.56,"y":26.4,"t":"0e"}]},"mark":{"type":"text","font":"Liberation Sans","fontSize":38,"align":"left","baseline":"alphabetic","color":"#000000"},"encoding":{"text":{"field":"t"}}},
{"data":{"values":[{"x":-1.383,"y":17.58,"t":"[dB]"}]},"mark":{"type":"text","font":"Liberation Sans","fontSize":60,"angle":270,"align":"left","baseline":"alphabetic","color":"#262626"},"encoding":{"text":{"field":"t"}}},
{"data":{"values":[{"x":-1.36,"y":13.74,"t":"σ"}]},"mark":{"type":"text","font":"Liberation Sans","fontSize":60,"fontStyle":"italic","angle":270,"align":"left","baseline":"alphabetic","color":"#262626"},"encoding":{"text":{"field":"t"}}},
{"data":{"values":[{"x":-0.94,"y":15.05,"t":"0e"}]},"mark":{"type":"text","font":"Liberation Sans","fontSize":46,"angle":270,"align":"left","baseline":"alphabetic","color":"#262626"},"encoding":{"text":{"field":"t"}}}
]},
{"width":38,"height":729,"view":{"stroke":"#555555","strokeWidth":1.5},"data":{"name":"colorbar"},"mark":{"type":"rect"},"encoding":{
"y":{"field":"y","type":"quantitative","scale":{"domain":[0,1],"nice":false,"zero":false},"axis":{"orient":"right","values":[0,0.2,0.4,0.6,0.8,1],"format":"~g","labelFontSize":50,"labelPadding":21,"domain":false,"tickSize":-7,"tickWidth":1,"tickColor":"#333333","title":"Normalized counts","titleFontSize":38,"titleFontWeight":"normal","titleAngle":270,"titleBaseline":"alphabetic","titleX":118,"titleY":354,"labelOverlap":false}},
"y2":{"datum":1},
"color":{"field":"c","type":"quantitative","legend":null,"scale":{"domain":[0,0.05,0.1,0.15,0.2,0.25,0.3,0.35,0.4,0.43,0.47,0.5,0.55,0.6,0.65,0.7,0.75,0.8,0.85,0.9,0.95,1],"range":["#0066c6","#0a80b8","#2a95ad","#3aa5a0","#62bf99","#7acb8d","#9ed982","#bfe974","#daf468","#e5fb60","#e8e838","#e5dd20","#e3c800","#d9a800","#d98a00","#d46f00","#cf5400","#c63a00","#bf2000","#b60000","#ac0000","#a00000"],"interpolate":"rgb"}}}}
]}
